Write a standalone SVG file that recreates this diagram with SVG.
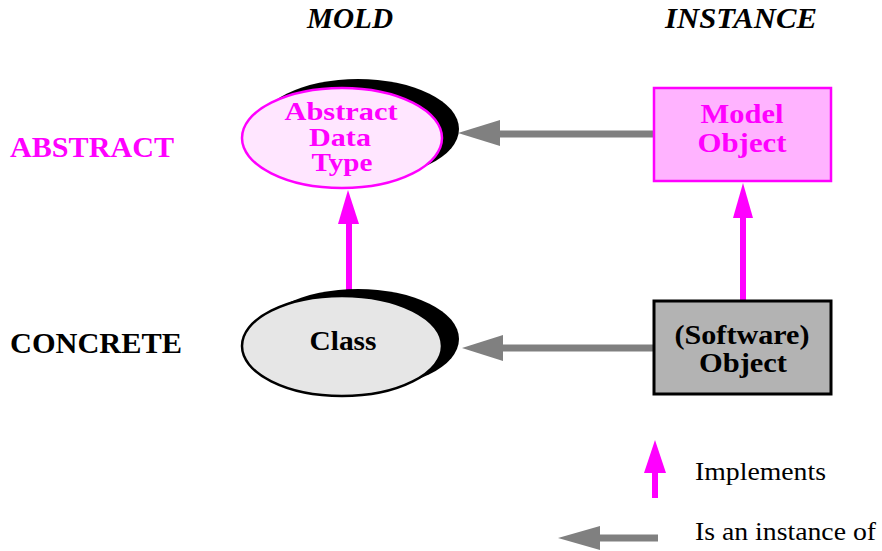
<svg xmlns="http://www.w3.org/2000/svg" width="882" height="551" viewBox="0 0 882 551" font-family="'Liberation Serif', 'Times New Roman', Times, serif">
<style>
text{font-family:"Liberation Serif","Times New Roman",Times,serif;}
.b{font-weight:bold;font-size:27px;text-anchor:middle;}
.s{font-size:25px;}
.lab{font-weight:bold;font-size:30px;}
.title{font-weight:bold;font-style:italic;font-size:29px;}
.leg{font-size:26px;}
.mag{fill:#ff00ff;}
.blk{fill:#000;}
.gl{stroke:#808080;stroke-width:7;fill:none;}
.ml{stroke:#ff00ff;stroke-width:6;fill:none;}
.gh{fill:#808080;}
.mh{fill:#ff00ff;}
</style>
<rect width="882" height="551" fill="#fff"/>
<text class="title blk" x="307" y="28" textLength="86" lengthAdjust="spacingAndGlyphs">MOLD</text>
<text class="title blk" x="665" y="28" textLength="152" lengthAdjust="spacingAndGlyphs">INSTANCE</text>
<text class="lab mag" x="10" y="157" textLength="164" lengthAdjust="spacingAndGlyphs">ABSTRACT</text>
<text class="lab blk" x="10" y="353" textLength="172" lengthAdjust="spacingAndGlyphs">CONCRETE</text>

<g id="connectors">
  <line class="gl" x1="655" y1="134" x2="495" y2="134"/>
  <polygon class="gh" points="458,133 500,120 500,146"/>
  <line class="gl" x1="655" y1="348" x2="498" y2="348"/>
  <polygon class="gh" points="462,348 503,335 503,361"/>
  <line class="ml" x1="349" y1="290" x2="349" y2="220"/>
  <polygon class="mh" points="348,190 338,224 359,224"/>
  <line class="ml" x1="743" y1="300" x2="743" y2="215"/>
  <polygon class="mh" points="743,183 733,218 753,218"/>
</g>

<g id="adt">
  <ellipse cx="358" cy="129" rx="101" ry="50" fill="#000"/>
  <ellipse cx="342" cy="138" rx="100" ry="50" fill="#ffe6ff" stroke="#ff00ff" stroke-width="2.5"/>
  <text class="b s mag" x="341" y="120" textLength="113" lengthAdjust="spacingAndGlyphs">Abstract</text>
  <text class="b s mag" x="340" y="146" textLength="62" lengthAdjust="spacingAndGlyphs">Data</text>
  <text class="b s mag" x="342" y="171" textLength="61" lengthAdjust="spacingAndGlyphs">Type</text>
</g>

<g id="class">
  <ellipse cx="358" cy="339" rx="101" ry="50" fill="#000"/>
  <ellipse cx="342" cy="346" rx="100" ry="50" fill="#e6e6e6" stroke="#000" stroke-width="2.5"/>
  <text class="b blk" x="343" y="350" textLength="67" lengthAdjust="spacingAndGlyphs">Class</text>
</g>

<g id="model-object">
  <rect x="654" y="88" width="177" height="93" fill="#ffb3ff" stroke="#ff00ff" stroke-width="2.5"/>
  <text class="b mag" x="742" y="123" textLength="83" lengthAdjust="spacingAndGlyphs">Model</text>
  <text class="b mag" x="742" y="152" textLength="89" lengthAdjust="spacingAndGlyphs">Object</text>
</g>

<g id="software-object">
  <rect x="654" y="301" width="177" height="93" fill="#b3b3b3" stroke="#000" stroke-width="3"/>
  <text class="b blk" x="742" y="344" textLength="135" lengthAdjust="spacingAndGlyphs">(Software)</text>
  <text class="b blk" x="743" y="372" textLength="88" lengthAdjust="spacingAndGlyphs">Object</text>
</g>

<g id="legend">
  <line class="ml" x1="655" y1="498" x2="655" y2="468"/>
  <polygon class="mh" points="655,440 644,473 666,473"/>
  <text class="leg blk" x="695" y="480" textLength="131" lengthAdjust="spacingAndGlyphs">Implements</text>
  <line class="gl" x1="658" y1="538" x2="595" y2="538"/>
  <polygon class="gh" points="558,538 600,526 600,550"/>
  <text class="leg blk" x="695" y="540" textLength="181" lengthAdjust="spacingAndGlyphs">Is an instance of</text>
</g>
</svg>
